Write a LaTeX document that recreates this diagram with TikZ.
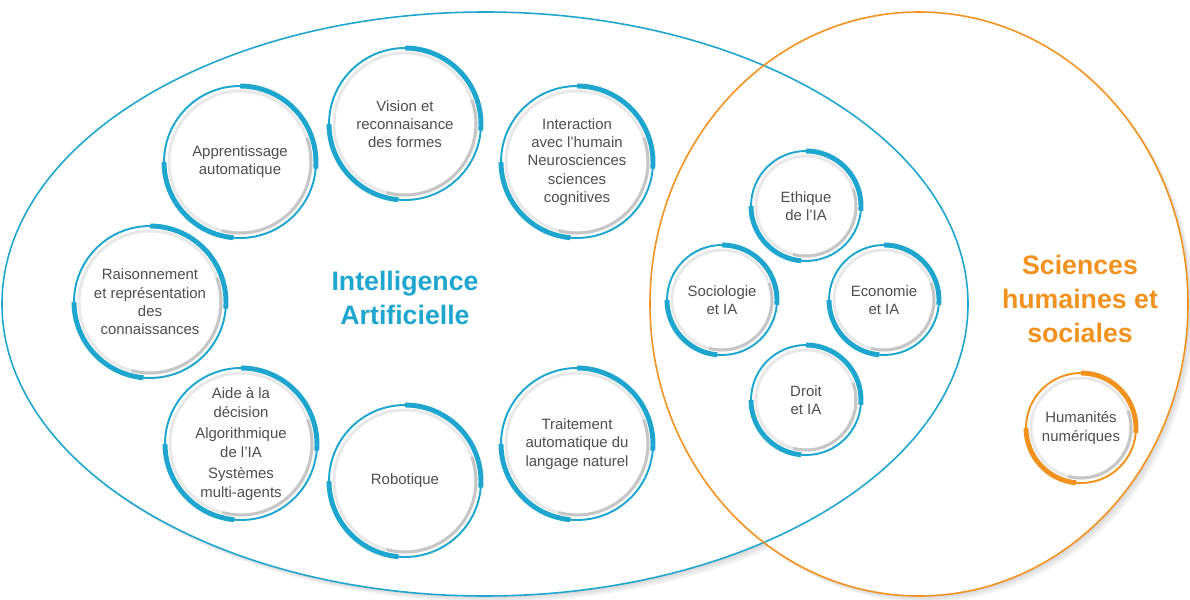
\documentclass[tikz,border=0pt]{standalone}
\usepackage{fontspec}
\setmainfont{Liberation Sans}
\usepackage{xcolor}
\usepackage{tikz}

\definecolor{iablue}{RGB}{30,166,206}
\definecolor{shsorange}{RGB}{242,146,30}
\definecolor{txtgray}{RGB}{78,78,78}

\tikzset{
    bubble/.style={circle, draw=iablue, line width=1.1pt, fill=white, inner sep=0pt,
        align=center, text=txtgray, font=\fontsize{8.5}{10.4}\selectfont},
    bigbubble/.style={bubble, minimum size=3.04cm},
    smallbubble/.style={bubble, minimum size=2.2cm},
    ringarc/.style={line width=2.8pt},
    innerring/.style={gray!18, line width=1.7pt},
    innershade/.style={gray!45, line width=1.7pt},
    title/.style={font=\fontsize{15.2}{19.4}\selectfont\bfseries, align=center}
}

\begin{document}
\begin{tikzpicture}[x=0.02cm,y=0.02cm]
        \useasboundingbox (0,0) rectangle (1190,599);

        % soft shadow under the two fields
        \foreach \d in {2,4,6}{
            \fill[black,opacity=0.05] (485+\d,295-\d) ellipse[x radius=483,y radius=292];
            \fill[black,opacity=0.05] (919+\d,295-\d) ellipse[x radius=269,y radius=292];
        }

        % the two fields
        \fill[white] (485,295) ellipse[x radius=483,y radius=292];
        \fill[white] (919,295) ellipse[x radius=269,y radius=292];
        \draw[iablue, line width=0.9pt] (485,295) ellipse[x radius=483,y radius=292];
        \draw[shsorange, line width=0.9pt] (919,295) ellipse[x radius=269,y radius=292];

        % field names
        \node[title, text=iablue] (ia) at (405,301) {Intelligence\\Artificielle};
        \node[title, text=shsorange] (shs) at (1080,300) {Sciences\\humaines et\\sociales};

        % bubbles of the IA field
        \node[bigbubble] (appr) at (240,437) {Apprentissage\\automatique};
        \node[bigbubble] (vision) at (405,475) {Vision et\\reconnaisance\\des formes};
        \node[bigbubble] (inter) at (577,437) {Interaction\\avec l'humain\\Neurosciences\\sciences\\cognitives};
        \node[bigbubble] (raison) at (150,297) {Raisonnement\\et représentation\\des\\connaissances};
        \node[bigbubble] (aide) at (241,155) {Aide à la\\décision\\[2pt]Algorithmique\\de l'IA\\[2pt]Systèmes\\multi-agents};
        \node[bigbubble] (robot) at (405,118) {Robotique};
        \node[bigbubble] (tal) at (577,155) {Traitement\\automatique du\\langage naturel};

        % bubbles of the overlap
        \node[smallbubble] (ethique) at (806,393) {Ethique\\de l'IA};
        \node[smallbubble] (socio) at (722,299) {Sociologie\\et IA};
        \node[smallbubble] (eco) at (884,299) {Economie\\et IA};
        \node[smallbubble] (droit) at (806,199) {Droit\\et IA};

        % bubble of the SHS field
        \node[smallbubble, draw=shsorange] (huma) at (1081,171) {Humanités\\numériques};

        % inner rings and thick arcs
        \foreach \n/\r/\c in {appr/76/iablue, vision/76/iablue, inter/76/iablue,
                raison/76/iablue, aide/76/iablue, robot/76/iablue, tal/76/iablue,
                ethique/55/iablue, socio/55/iablue, eco/55/iablue, droit/55/iablue,
                huma/55/shsorange}{
            \pgfmathsetmacro{\ri}{\r-5}
            \draw[innerring] (\n.center) circle[radius=\ri];
            \draw[innershade] ([shift={(-105:\ri)}]\n.center) arc[start angle=-105,end angle=20,radius=\ri];
            \draw[ringarc, \c] ([shift={(90:\r)}]\n.center) arc[start angle=90,end angle=-5,radius=\r];
            \draw[ringarc, \c] ([shift={(180:\r)}]\n.center) arc[start angle=180,end angle=265,radius=\r];
        }

    \end{tikzpicture}
\end{document}
